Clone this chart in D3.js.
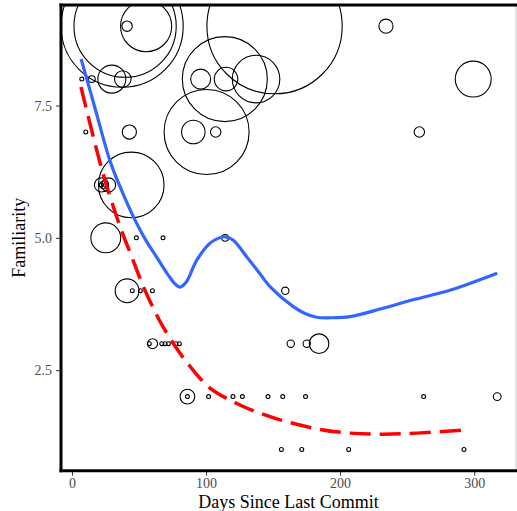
<html>
    <head>
        <style>
            body { margin: 0; background: white; }
            text { font-family: "Liberation Serif", "DejaVu Serif", serif; }
        </style>
    </head>
    <body>

        <svg id="content"></svg>

        <script src="https://cdn.jsdelivr.net/npm/d3@7"></script>
        <script>

            // points: days since last commit, familiarity, size
            let days = [
                37.4, 39.6, 55.3, 41.1, 151.1, 234.2,
                7.3, 14.8, 29.7, 37.9, 96.0, 114.9, 114.0, 137.3, 299.3,
                10.3, 42.8, 100.4, 90.5, 107.2, 259.1,
                44.2, 22.0, 27.3, 23.5, 25.4, 21.6,
                25.2, 48.0, 67.9, 114.2,
                41.1, 45.0, 51.0, 60.0, 159.1,
                60.1, 57.7, 67.0, 69.4, 71.9, 77.6, 80.1, 163.2, 175.1, 184.3,
                86.1, 86.1, 101.9, 120.1, 127.1, 146.2, 157.2, 174.2, 262.3, 317.2,
                156.2, 171.4, 206.4, 292.4
            ];
            let familiarity = [
                9, 9, 9, 9, 9, 9,
                8, 8, 8, 8, 8, 8, 8, 8, 8,
                7, 7, 7, 7, 7, 7,
                6, 6, 6, 6, 6, 6,
                5, 5, 5, 5,
                4, 4, 4, 4, 4,
                3, 3, 3, 3, 3, 3, 3, 3, 3, 3,
                2, 2, 2, 2, 2, 2, 2, 2, 2, 2,
                1, 1, 1, 1
            ];
            let sizes = [
                970, 680, 170, 7, 1190, 13,
                1, 3, 51, 18, 26, 36, 470, 147, 84,
                1, 13, 470, 36, 7, 7,
                280, 13, 13, 4, 1.6, 1,
                58, 1, 1, 3,
                37, 1, 1, 1, 3.5,
                6.5, 1, 1, 1, 1, 1, 1, 3.5, 3.5, 25,
                14, 1, 1, 1, 1, 1, 1, 1, 1, 4,
                1, 1, 1, 1
            ];

            // smoothed curves
            let blueX = [6.8, 17.2, 28.4, 36.6, 45.6, 54.5, 63.5, 70.9, 76.1, 80.6, 85.1, 93.1, 103.0, 109.0, 114.2,
                         120.1, 130.4, 138.8, 147.7, 165.1, 173.8, 182.5, 192.5, 207.4, 232.0, 255.9, 282.0, 317.2];
            let blueY = [8.38, 7.45, 6.45, 5.92, 5.41, 4.98, 4.62, 4.33, 4.15, 4.07, 4.16, 4.58, 4.90, 4.99, 5.02,
                         4.96, 4.64, 4.37, 4.08, 3.70, 3.57, 3.50, 3.49, 3.51, 3.67, 3.84, 4.01, 4.33];
            let redX = [6.7, 21.0, 28.4, 35.9, 44.6, 53.2, 65.7, 78.1, 88.1, 103.0, 122.9, 137.8, 155.2, 185.0, 207.4, 232.0, 257.3, 291.9];
            let redY = [7.85, 6.41, 5.78, 5.21, 4.64, 4.08, 3.42, 2.91, 2.57, 2.16, 1.87, 1.71, 1.56, 1.38, 1.31, 1.29, 1.31, 1.37];

            let xTicks = [0, 100, 200, 300];
            let yTicks = [2.5, 5.0, 7.5];

            let bodyWidth = 517;
            let bodyHeight = 511;
            let pLeft = 61, pRight = 516, pTop = 5, pBottom = 470.7;

            let body = d3.select("#content")
                            .attr("width", bodyWidth)
                            .attr("height", bodyHeight);

            let xScale = d3.scaleLinear().domain([-8.2, 332.7]).range([pLeft, 518]);
            let yScale = d3.scaleLinear().domain([0.6, 9.4]).range([pBottom, pTop]);
            let rScale = d3.scaleSqrt().domain([0, 1000]).range([0, 62]);

            body.append("clipPath")
                .attr("id", "panel")
                .append("rect")
                .attr("x", pLeft)
                .attr("y", pTop)
                .attr("width", pRight - pLeft)
                .attr("height", pBottom - pTop);

            let panel = body.append("g").attr("clip-path", "url(#panel)");

            let points = days.map((d, i) => ({ x: d, y: familiarity[i], s: sizes[i] }));

            panel.selectAll("circle")
                .data(points)
                .enter()
                .append("circle")
                .attr("cx", d => xScale(d.x))
                .attr("cy", d => yScale(d.y))
                .attr("r", d => Math.max(1.8, rScale(d.s)))
                .attr("fill", "none")
                .attr("stroke", "black")
                .attr("stroke-width", 1.1);

            let line = d3.line()
                            .x(d => xScale(d[0]))
                            .y(d => yScale(d[1]))
                            .curve(d3.curveCatmullRom.alpha(0.5));

            panel.append("path")
                .datum(blueX.map((d, i) => [d, blueY[i]]))
                .attr("d", line)
                .attr("fill", "none")
                .attr("stroke", "#3366FF")
                .attr("stroke-width", 3.2);

            panel.append("path")
                .datum(redX.map((d, i) => [d, redY[i]]))
                .attr("d", line)
                .attr("fill", "none")
                .attr("stroke", "red")
                .attr("stroke-width", 3.5)
                .attr("stroke-dasharray", "21 9");

            // frame
            body.append("line")
                .attr("x1", pRight).attr("x2", pRight)
                .attr("y1", pTop).attr("y2", pBottom)
                .attr("stroke", "#c8c8c8")
                .attr("stroke-width", 1);
            body.append("line")
                .attr("x1", pLeft - 1.5).attr("x2", bodyWidth)
                .attr("y1", pTop).attr("y2", pTop)
                .attr("stroke", "black")
                .attr("stroke-width", 3);

            let xAxis = body.append("g")
                            .attr("transform", `translate(0, ${pBottom})`)
                            .call(d3.axisBottom(xScale).tickValues(xTicks).tickSize(5).tickPadding(2));
            let yAxis = body.append("g")
                            .attr("transform", `translate(${pLeft}, 0)`)
                            .call(d3.axisLeft(yScale).tickValues(yTicks).tickSize(5).tickPadding(4)
                                    .tickFormat(d3.format(".1f")));

            [xAxis, yAxis].forEach(a => {
                a.select(".domain").remove();
                a.selectAll(".tick line").attr("stroke", "#333333").attr("stroke-width", 1);
                a.selectAll(".tick text")
                    .attr("fill", "#4D4D4D")
                    .style("font-size", "14px")
                    .style("font-family", "'Liberation Serif', serif");
            });

            body.append("line")
                .attr("x1", pLeft).attr("x2", pLeft)
                .attr("y1", pTop - 1.5).attr("y2", pBottom + 1.5)
                .attr("stroke", "black")
                .attr("stroke-width", 3);
            body.append("line")
                .attr("x1", pLeft - 1.5).attr("x2", bodyWidth)
                .attr("y1", pBottom).attr("y2", pBottom)
                .attr("stroke", "black")
                .attr("stroke-width", 3);

            body.append("text")
                .text("Days Since Last Commit")
                .attr("x", (pLeft + pRight) / 2)
                .attr("y", 507.5)
                .attr("text-anchor", "middle")
                .attr("fill", "black")
                .style("font-size", "18px");

            body.append("text")
                .text("Familiarity")
                .attr("transform", `translate(25, ${(pTop + pBottom) / 2}) rotate(-90)`)
                .attr("text-anchor", "middle")
                .attr("fill", "black")
                .style("font-size", "18px");

        </script>
    </body>
</html>
